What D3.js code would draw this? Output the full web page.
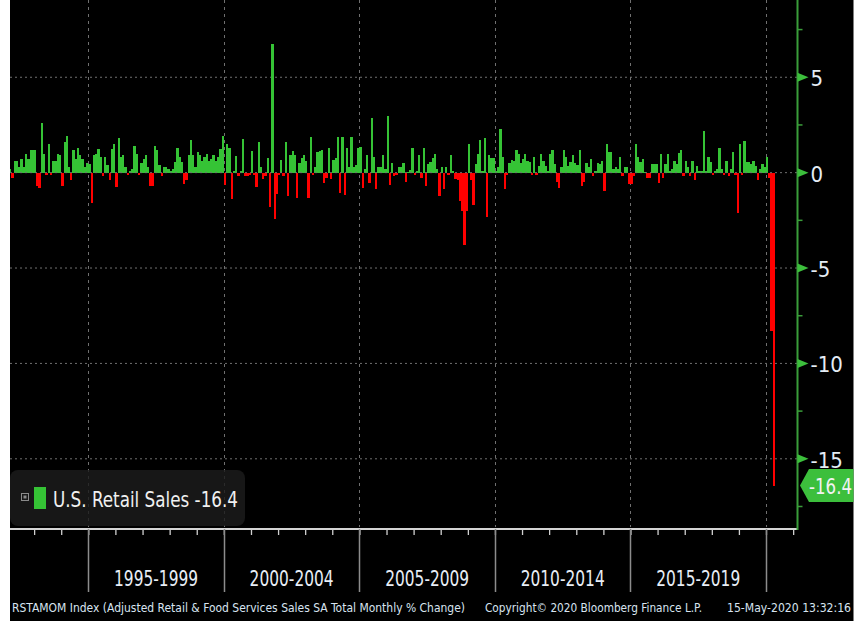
<!DOCTYPE html>
<html><head><meta charset="utf-8">
<script src="https://cdn.jsdelivr.net/npm/d3@7"></script>
<style>
html,body{margin:0;padding:0;background:#fff;}
svg{display:block;}
text{font-family:'Liberation Sans Narrow','DejaVu Sans Condensed','Arial Narrow','Liberation Sans',sans-serif;}
</style></head><body>
<svg id="chart" width="862" height="621"></svg>
<script>
// ---- data (monthly % change, first value = Feb 1992) ----
const firstMonth = "1992-02";
const values1992_1994 = [
  0.2, -0.3, 0.6, 0.6, 0.3, 0.7, 0.3, 1.0, 0.7, 1.2, 1.2,
  1.2, -0.7, -0.8, 2.6, 1.0, -0.1, 1.5, -0.1, 0.6, 0.6, 1.0, 0.9,
  -0.7, 1.6, 1.9, 0.3, -0.4, 1.2, 0.7, 1.3, 0.9, 0.7, 0.3, 0.5
];
const values1995_1999 = [
  0.45, -1.6, 0.95, 1.0, 1.25, 0.8, -0.2, 0.8, 0.4, -0.4, 1.25, 1.5,
  -0.75, 1.8, 0.8, 0.9, 0.3, -0.1, 0.1, 0.2, 1.4, 1.0, -0.1, 0.5,
  0.7, 0.9, 0.3, -0.7, -0.7, 1.4, 1.2, 0.4, -0.2, 0.3, 0.3, 0.2,
  0.1, 0.2, 0.55, 1.3, 0.8, 0.55, -0.6, -0.4, 0.9, 1.7, 0.9, 0.3,
  1.1, 0.9, 0.6, 0.8, 1.0, 0.6, 0.7, 0.9, 0.6, 0.8, 1.25, 1.9
];
const values2000_2004 = [
  -0.65, 1.5, 1.3, -1.4, 0.1, 0.85, -0.2, 0.1, 1.75, -0.2, -0.2, -0.1,
  1.15, -0.1, -0.75, 1.6, 0.3, -0.35, -0.2, 0.75, -1.8, 6.75, -2.45, -1.1,
  -0.1, 0.65, -0.2, 1.6, -1.2, 0.9, 1.15, 0.9, -1.35, 0.5, 0.75, 0.9,
  0.6, -1.35, 1.85, -0.1, 0.3, 1.1, 1.15, 1.2, -0.55, -0.3, 1.3, -0.35,
  0.65, 0.75, 1.85, -1.05, 1.85, -1.15, 1.3, 0.3, 1.85, 0.3, 0.4, 1.3
];
const values2005_2009 = [
  1.35, -0.8, 0.2, 0.9, -0.55, 2.85, 0.8, -0.85, 0.3, 0.3, 0.95, 0.2,
  2.95, -0.65, 0.5, -0.15, -0.1, 0.3, 0.3, 0.5, -0.5, 0.05, 0.15, 1.3,
  -0.1, 0.1, 0.9, -0.3, 1.3, -0.7, 0.45, 0.55, 0.75, 1.0, 0.2, -1.2,
  0.3, -0.85, 0.3, -0.1, 0.9, 0.1, -0.35, -0.4, -1.5, -2.0, -3.8, -2.0,
  1.5, -0.4, -1.7, 0.45, 1.0, 1.7, 0.1, 1.8, -2.3, 0.9, 0.75, 0.75
];
const values2010_2014 = [
  0.1, 0.3, 2.3, 0.8, -0.85, -0.1, 0.5, 0.65, 0.6, 1.2, 1.0, 0.5,
  0.7, 1.0, 0.6, 0.55, -0.1, 0.8, -0.1, 0.35, 1.0, 0.6, 0.35, 0.1,
  1.0, 1.2, 0.45, -0.5, -0.8, 0.3, 1.2, 0.8, 0.35, 0.55, 0.9, 0.5,
  0.4, 1.2, -0.7, -0.5, 0.5, 0.3, 0.7, -0.15, 0.1, 0.5, 0.45, 0.6,
  -0.95, 1.5, 1.1, 1.1, 0.2, 0.3, 0.2, 0.8, -0.15, 0.3, 0.3, -0.6
];
const values2015_2020 = [
  -0.6, -0.15, 1.5, 0.8, 0.55, 0.7, 0.05, -0.3, -0.3, 0.45, 0.45, 0.45,
  -0.55, 1.0, -0.3, 0.45, 1.0, 0.1, 0.2, 0.6, 0.45, 1.05, 1.2, -0.15,
  0.6, 0.3, -0.15, 0.6, -0.4, 0.35, 0.1, 0.1, 2.2, 0.1, 0.8, 0.55,
  -0.1, 0.1, 0.2, 1.3, 0.2, -0.1, 0.6, -0.15, 0.2, 1.1, -0.1, -2.1,
  1.5, -0.1, 1.65, 0.55, 0.55, 0.45, 0.6, 0.35, -0.4, 0.2, 0.45, 0.3,
  0.8, -0.3, -8.3, -16.4
];
const yTickValues = [5, 0, -5, -10, -15];
const yMinorTicks = [7.5, 2.5, -2.5, -7.5, -12.5, -17.5];
const periodLabels = ["1995-1999", "2000-2004", "2005-2009", "2010-2014", "2015-2019"];
const periodStartYears = [1995, 2000, 2005, 2010, 2015, 2020];
const seriesName = "U.S. Retail Sales";
const footerLeft = "RSTAMOM Index (Adjusted Retail & Food Services Sales SA Total Monthly % Change)";
const footerMid = "Copyright\u00a9 2020 Bloomberg Finance L.P.";
const footerRight = "15-May-2020 13:32:16";

// ---- build ----
const values = [].concat(values1992_1994, values1995_1999, values2000_2004,
  values2005_2009, values2010_2014, values2015_2020);
const start = d3.timeParse("%Y-%m")(firstMonth);
const data = values.map((v, i) => ({date: d3.timeMonth.offset(start, i), value: v}));
const last = data[data.length - 1];

const P = {left: 10, right: 797.5, top: 0, bottom: 529};
const xBase = d3.scaleTime().domain([new Date(1995, 0, 1), new Date(2020, 0, 1)]).range([88.3, 766]);
const x = d3.scaleTime().domain([xBase.invert(P.left), xBase.invert(P.right)]).range([P.left, P.right]);
const y = d3.scaleLinear().domain([-18.68, 9.05]).range([P.bottom, P.top]);

const svg = d3.select("#chart");
svg.append("rect").attr("x", 10).attr("y", 0).attr("width", 843.5).attr("height", 621).attr("fill", "#000");

const GRID = "#707070";
// horizontal grid
svg.append("g").selectAll("line").data(yTickValues.filter(v => v !== 0)).join("line")
  .attr("x1", P.left).attr("x2", P.right).attr("y1", d => y(d)).attr("y2", d => y(d))
  .attr("stroke", GRID).attr("stroke-width", 1).attr("stroke-dasharray", "2,3");
// vertical grid
svg.append("g").selectAll("line").data(periodStartYears).join("line")
  .attr("x1", d => Math.round(x(new Date(d, 0, 1))) + 0.5).attr("x2", d => Math.round(x(new Date(d, 0, 1))) + 0.5)
  .attr("y1", P.top).attr("y2", P.bottom - 2)
  .attr("stroke", GRID).attr("stroke-width", 1).attr("stroke-dasharray", "3,4");

// bars
svg.append("clipPath").attr("id", "pc").append("rect")
  .attr("x", P.left).attr("y", P.top).attr("width", P.right - P.left).attr("height", P.bottom - P.top);
svg.append("g").attr("clip-path", "url(#pc)").selectAll("rect").data(data).join("rect")
  .attr("x", d => x(d.date))
  .attr("width", d => x(d3.timeMonth.offset(d.date, 1)) - x(d.date))
  .attr("y", d => y(Math.max(0, d.value)))
  .attr("height", d => Math.abs(y(d.value) - y(0)))
  .attr("fill", d => d.value >= 0 ? "#35c335" : "#ff0000")
  .attr("shape-rendering", "crispEdges");

// zero line on top
svg.append("line").attr("x1", P.left).attr("x2", P.right).attr("y1", y(0)).attr("y2", y(0))
  .attr("stroke", GRID).attr("stroke-width", 1).attr("stroke-dasharray", "2,3");

// legend box
svg.append("rect").attr("x", 10).attr("y", 470).attr("width", 235).attr("height", 56).attr("rx", 8)
  .attr("fill", "#1c1c1c").attr("fill-opacity", 0.82);
svg.append("rect").attr("x", 21.5).attr("y", 493.5).attr("width", 7).attr("height", 7)
  .attr("fill", "none").attr("stroke", "#8a8a8a").attr("stroke-width", 1);
svg.append("rect").attr("x", 23.5).attr("y", 495.5).attr("width", 3).attr("height", 3).attr("fill", "#8a8a8a");
svg.append("rect").attr("x", 34).attr("y", 487).attr("width", 12).attr("height", 22).attr("fill", "#35c335");
svg.append("text").attr("x", 53).attr("y", 507).attr("fill", "#f0f0f0").attr("font-size", 22)
  .attr("textLength", 185).attr("lengthAdjust", "spacingAndGlyphs")
  .text(seriesName + " " + d3.format(".1f")(last.value).replace("−", "-"));

// x axis
const xAxis = d3.axisBottom(x).ticks(d3.timeYear.every(1)).tickSize(6).tickFormat("");
const gx = svg.append("g").attr("transform", `translate(0,${P.bottom})`).call(xAxis);
gx.select(".domain").remove();
gx.selectAll(".tick line").attr("stroke", "#d0d0d0").attr("stroke-width", 1.3);
svg.append("line").attr("x1", P.left).attr("x2", P.right).attr("y1", P.bottom).attr("y2", P.bottom)
  .attr("stroke", "#d4d4d4").attr("stroke-width", 2);
// 5-year separators
svg.append("g").selectAll("line").data(periodStartYears).join("line")
  .attr("x1", d => Math.round(x(new Date(d, 0, 1))) + 0.5).attr("x2", d => Math.round(x(new Date(d, 0, 1))) + 0.5)
  .attr("y1", P.bottom).attr("y2", 592)
  .attr("stroke", "#8c8c8c").attr("stroke-width", 1.5);
// period labels
svg.append("g").selectAll("text").data(periodLabels).join("text")
  .attr("x", (d, i) => (x(new Date(periodStartYears[i], 0, 1)) + x(new Date(periodStartYears[i + 1], 0, 1))) / 2)
  .attr("y", 586).attr("text-anchor", "middle").attr("fill", "#e8eef6").attr("font-size", 21)
  .attr("textLength", 84).attr("lengthAdjust", "spacingAndGlyphs")
  .text(d => d);

// right axis
svg.append("line").attr("x1", P.right).attr("x2", P.right).attr("y1", 0).attr("y2", P.bottom + 1)
  .attr("stroke", "#3a9d3a").attr("stroke-width", 2);
svg.append("g").selectAll("line").data(yMinorTicks).join("line")
  .attr("x1", P.right).attr("x2", P.right + 5).attr("y1", d => y(d)).attr("y2", d => y(d))
  .attr("stroke", "#3a9d3a").attr("stroke-width", 1.5);
svg.append("g").selectAll("path").data(yTickValues).join("path")
  .attr("d", d => `M${P.right},${y(d) - 4.5}L${P.right + 11},${y(d)}L${P.right},${y(d) + 4.5}Z`)
  .attr("fill", "#3cbf3c");
const yAxis = d3.axisRight(y).tickValues(yTickValues).tickSize(0).tickPadding(13)
  .tickFormat(d => String(d));
const gy = svg.append("g").attr("transform", `translate(${P.right},1.5)`).call(yAxis);
gy.select(".domain").remove();
gy.selectAll("text").attr("fill", "#e4ecf4").attr("font-size", 22)
  .style("font-family", "'Liberation Sans Narrow','DejaVu Sans Condensed','Arial Narrow',sans-serif");

// last value tag
const yl = y(last.value);
svg.append("path")
  .attr("d", `M800,${yl}L809,${yl - 16.5}L853.5,${yl - 16.5}L853.5,${yl + 16.5}L809,${yl + 16.5}Z`)
  .attr("fill", "#3cbf3c");
svg.append("text").attr("x", 809).attr("y", yl + 8).attr("fill", "#f2f2f2").attr("font-size", 22)
  .attr("textLength", 43).attr("lengthAdjust", "spacingAndGlyphs")
  .text(d3.format(".1f")(last.value).replace("−", "-"));

// footer
const foot = svg.append("g").attr("fill", "#d8e4f0").attr("font-size", 12.5);
foot.append("text").attr("x", 12).attr("y", 612).attr("textLength", 453).attr("lengthAdjust", "spacingAndGlyphs").text(footerLeft);
foot.append("text").attr("x", 485).attr("y", 612).attr("textLength", 217).attr("lengthAdjust", "spacingAndGlyphs").text(footerMid);
foot.append("text").attr("x", 727).attr("y", 612).attr("textLength", 124).attr("lengthAdjust", "spacingAndGlyphs").text(footerRight);
</script>
</body></html>
